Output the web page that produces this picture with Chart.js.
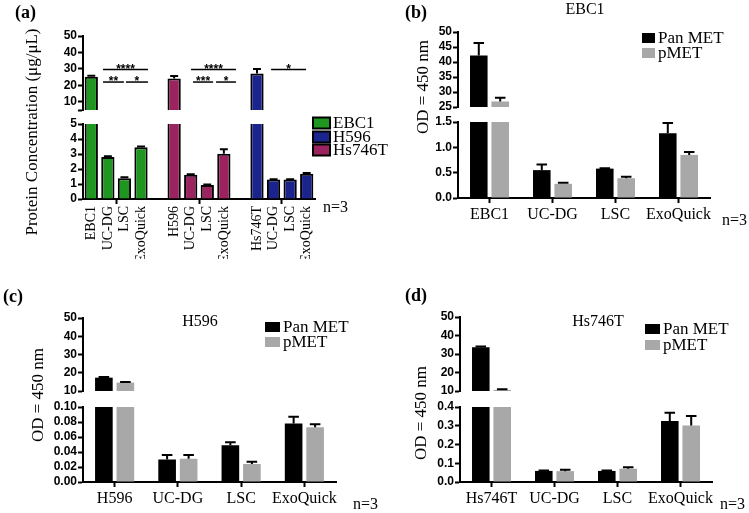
<!DOCTYPE html>
<html>
<head>
<meta charset="utf-8">
<script src="https://cdn.jsdelivr.net/npm/chart.js@4.4.0/dist/chart.umd.min.js"></script>
<style>
  body { margin: 0; background: #fff; }
  #wrap { position: relative; width: 749px; height: 513px; }
  #wrap canvas { position: absolute; left: 0; top: 0; }
</style>
</head>
<body>
<div id="wrap"></div>
<script>
// ---- (a) protein concentration
var proteinLabels = ['EBC1', 'UC-DG', 'LSC', 'ExoQuick', '', 'H596', 'UC-DG', 'LSC', 'ExoQuick', '', 'Hs746T', 'UC-DG', 'LSC', 'ExoQuick'];
var proteinValues = [25.2, 2.8, 1.38, 3.45, null, 24.2, 1.62, 0.93, 3.02, null, 27.2, 1.3, 1.3, 1.68];
var proteinErrors = [0.6, 0.05, 0.07, 0.05, null, 1.4, 0.03, 0.03, 0.3, null, 2.8, 0.02, 0.02, 0.05];
var green = '#1f961f', maroon = '#9b235f', navy = '#1b248c';
var proteinColors = [green, green, green, green, null, maroon, maroon, maroon, maroon, null, navy, navy, navy, navy];
var proteinLegend = ['EBC1', 'H596', 'Hs746T'];
var proteinLegendColors = [green, navy, maroon];
// [from category, to category, value, stars]
var sigLines = [
  [0.71, 3.42, 29.6, '****'], [0.71, 1.97, 22, '**'], [2.09, 3.42, 22, '*'],
  [6.02, 8.73, 29.6, '****'], [6.14, 7.35, 22, '***'], [7.53, 8.73, 22, '*'],
  [10.85, 12.96, 29.6, '*']
];
var aTopTicks = [5, 10, 20, 30, 40, 50];
var aBottomTicks = [0, 1, 2, 3, 4, 5];

// ---- (b) EBC1
var ebc1Labels = ['EBC1', 'UC-DG', 'LSC', 'ExoQuick'];
var ebc1PanMET = [42.2, 0.55, 0.58, 1.28];
var ebc1PanMETErr = [4.1, 0.11, 0.005, 0.2];
var ebc1PMET = [26.8, 0.28, 0.39, 0.85];
var ebc1PMETErr = [1.3, 0.02, 0.03, 0.06];
var bTopTicks = [25, 30, 35, 40, 45, 50];
var bBottomTicks = [0, 0.5, 1.0, 1.5];

// ---- (c) H596
var h596Labels = ['H596', 'UC-DG', 'LSC', 'ExoQuick'];
var h596PanMET = [17.3, 0.030, 0.049, 0.078];
var h596PanMETErr = [0.4, 0.006, 0.004, 0.009];
var h596PMET = [14.6, 0.031, 0.024, 0.073];
var h596PMETErr = [0.4, 0.005, 0.003, 0.004];
var cTopTicks = [10, 20, 30, 40, 50];
var cBottomTicks = [0, 0.02, 0.04, 0.06, 0.08, 0.10];

// ---- (d) Hs746T
var hs746tLabels = ['Hs746T', 'UC-DG', 'LSC', 'ExoQuick'];
var hs746tPanMET = [33.6, 0.059, 0.059, 0.325];
var hs746tPanMETErr = [0.4, 0.002, 0.002, 0.045];
var hs746tPMET = [10.6, 0.058, 0.071, 0.302];
var hs746tPMETErr = [0.3, 0.008, 0.008, 0.05];
var dTopTicks = [10, 20, 30, 40, 50];
var dBottomTicks = [0, 0.1, 0.2, 0.3, 0.4];

var metLegend = ['Pan MET', 'pMET'];
var metColors = ['#000000', '#a8a8a8'];

var W = 749, H = 513;
var serif = '"Liberation Serif", "Times New Roman", serif';
var sans = '"Liberation Sans", Arial, sans-serif';

function addCanvas() {
  var c = document.createElement('canvas');
  c.width = W;
  c.height = H;
  document.getElementById('wrap').appendChild(c);
  return c;
}

// upper error bars, only where the mean falls inside this segment
var errorBars = {
  id: 'errorBars',
  afterDatasetsDraw: function (chart) {
    var ctx = chart.ctx, y = chart.scales.y;
    chart.data.datasets.forEach(function (ds, di) {
      if (!ds.errors) return;
      chart.getDatasetMeta(di).data.forEach(function (bar, i) {
        var v = ds.data[i], e = ds.errors[i];
        if (v == null || e == null || v < y.min || v > y.max) return;
        var top = y.getPixelForValue(Math.min(v + e, y.max));
        var cap = bar.width * 0.3;
        ctx.save();
        ctx.strokeStyle = '#000';
        ctx.lineWidth = 2;
        ctx.beginPath();
        ctx.moveTo(bar.x, bar.y);
        ctx.lineTo(bar.x, top);
        ctx.moveTo(bar.x - cap, top);
        ctx.lineTo(bar.x + cap, top);
        ctx.stroke();
        ctx.restore();
      });
    });
  }
};

var sigPlugin = {
  id: 'sig',
  afterDatasetsDraw: function (chart) {
    var ctx = chart.ctx, x = chart.scales.x, y = chart.scales.y;
    ctx.save();
    ctx.strokeStyle = '#000';
    ctx.fillStyle = '#000';
    ctx.lineWidth = 1.5;
    ctx.font = 'bold 12px ' + sans;
    ctx.textAlign = 'center';
    ctx.textBaseline = 'alphabetic';
    sigLines.forEach(function (s) {
      var x1 = x.getPixelForValue(s[0]), x2 = x.getPixelForValue(s[1]), yy = y.getPixelForValue(s[2]);
      ctx.beginPath();
      ctx.moveTo(x1, yy);
      ctx.lineTo(x2, yy);
      ctx.stroke();
      ctx.fillText(s[3], (x1 + x2) / 2, yy + 3);
    });
    ctx.restore();
  }
};

// panel letter, title, y title, legend and n=3
function decor(d) {
  return {
    id: 'decor',
    afterDraw: function (chart) {
      var ctx = chart.ctx;
      ctx.save();
      ctx.fillStyle = '#000';
      ctx.textBaseline = 'middle';
      ctx.font = 'bold 18px ' + serif;
      ctx.textAlign = 'left';
      ctx.fillText(d.letter, d.letterPos[0], d.letterPos[1]);
      ctx.font = '16px ' + serif;
      if (d.title) {
        ctx.textAlign = 'center';
        ctx.fillText(d.title, d.titlePos[0], d.titlePos[1]);
      }
      ctx.textAlign = 'left';
      ctx.fillText('n=3', d.nPos[0], d.nPos[1]);
      ctx.font = d.legend.font + 'px ' + serif;
      d.legend.labels.forEach(function (lab, i) {
        var ly = d.legend.y[i];
        ctx.fillStyle = d.legend.colors[i];
        ctx.fillRect(d.legend.x, ly - d.legend.h / 2, d.legend.w, d.legend.h);
        if (d.legend.border) {
          ctx.strokeStyle = '#000';
          ctx.lineWidth = 2;
          ctx.strokeRect(d.legend.x, ly - d.legend.h / 2, d.legend.w, d.legend.h);
        }
        ctx.fillStyle = '#000';
        ctx.fillText(lab, d.legend.x + d.legend.w + 3, ly + 1);
      });
      ctx.font = '17px ' + serif;
      ctx.translate(d.yTitlePos[0], d.yTitlePos[1]);
      ctx.rotate(-Math.PI / 2);
      ctx.textAlign = 'center';
      ctx.fillText(d.yTitle, 0, 0);
      ctx.restore();
    }
  };
}

function segment(area, cfg) {
  var yW = 60, xH = cfg.showX ? 60 : 0;
  return new Chart(addCanvas(), {
    type: 'bar',
    data: { labels: cfg.labels, datasets: cfg.datasets },
    options: {
      responsive: false,
      animation: false,
      events: [],
      layout: { padding: { left: area[0] - yW, top: area[1], right: W - area[2], bottom: H - area[3] - xH } },
      plugins: { legend: { display: false }, tooltip: { enabled: false } },
      scales: {
        x: {
          display: cfg.showX,
          offset: true,
          grid: {
            display: true, drawOnChartArea: false, drawTicks: true, tickLength: 5, tickWidth: 2,
            tickColor: cfg.tickColor || '#000', offset: cfg.gridOffset
          },
          border: { display: true, color: '#000', width: 2 },
          ticks: {
            font: cfg.xFont, color: '#000', padding: 2,
            minRotation: cfg.rot, maxRotation: cfg.rot, autoSkip: false
          },
          afterFit: function (s) { s.height = xH; }
        },
        y: {
          min: cfg.ticks[0],
          max: cfg.ticks[cfg.ticks.length - 1],
          grid: { drawOnChartArea: false, tickLength: 5, tickWidth: 2, tickColor: '#000' },
          border: { color: '#000', width: 2 },
          ticks: {
            font: { family: sans, size: 12, weight: 'bold' }, color: '#000', padding: 1,
            autoSkip: false, callback: cfg.fmt
          },
          afterBuildTicks: function (s) { s.ticks = cfg.ticks.map(function (v) { return { value: v }; }); },
          afterFit: function (s) { s.width = yW; }
        }
      }
    },
    plugins: [errorBars].concat(cfg.plugins || [])
  });
}

function proteinDataset() {
  return [{
    data: proteinValues, errors: proteinErrors,
    backgroundColor: proteinColors, borderColor: '#000', borderWidth: 2,
    barPercentage: 0.8, categoryPercentage: 1, clip: 0
  }];
}

function metDatasets(pan, panErr, p, pErr) {
  return [
    { label: metLegend[0], data: pan, errors: panErr, backgroundColor: metColors[0],
      barPercentage: 0.82, categoryPercentage: 0.68, clip: 0 },
    { label: metLegend[1], data: p, errors: pErr, backgroundColor: metColors[1],
      barPercentage: 0.82, categoryPercentage: 0.68, clip: 0 }
  ];
}

function fixed(n) { return function (v) { return Number(v).toFixed(n); }; }
var xSerif = { family: serif, size: 16 };

// (a)
segment([83, 36, 315, 110], {
  labels: proteinLabels, datasets: proteinDataset(), showX: false, ticks: aTopTicks,
  fmt: function (v) { return v % 10 === 0 ? v : ''; }, plugins: [sigPlugin]
});
segment([83, 124, 315, 199], {
  labels: proteinLabels, datasets: proteinDataset(), showX: true, ticks: aBottomTicks, rot: 90,
  xFont: { family: serif, size: 14 }, gridOffset: true,
  tickColor: function (c) { return [2, 7, 12].indexOf(c.index) >= 0 ? '#000' : 'rgba(0,0,0,0)'; },
  fmt: fixed(0),
  plugins: [decor({
    letter: '(a)', letterPos: [15, 13], yTitle: 'Protein Concentration (μg/μL)', yTitlePos: [33, 132],
    nPos: [323, 208],
    legend: { labels: proteinLegend, colors: proteinLegendColors, x: 313, y: [123, 137, 150], w: 17, h: 11, border: true, font: 17 }
  })]
});

// (b)
segment([458, 32, 710, 107], {
  labels: ebc1Labels, datasets: metDatasets(ebc1PanMET, ebc1PanMETErr, ebc1PMET, ebc1PMETErr),
  showX: false, ticks: bTopTicks, fmt: fixed(0)
});
segment([458, 122, 710, 198], {
  labels: ebc1Labels, datasets: metDatasets(ebc1PanMET, ebc1PanMETErr, ebc1PMET, ebc1PMETErr),
  showX: true, ticks: bBottomTicks, rot: 0, xFont: xSerif, gridOffset: false, fmt: fixed(1),
  plugins: [decor({
    letter: '(b)', letterPos: [405, 13], title: 'EBC1', titlePos: [585, 10],
    yTitle: 'OD = 450 nm', yTitlePos: [424, 87], nPos: [722, 221],
    legend: { labels: metLegend, colors: metColors, x: 642, y: [38, 53], w: 13, h: 10, border: false, font: 17 }
  })]
});

// (c)
segment([83, 318, 336, 391], {
  labels: h596Labels, datasets: metDatasets(h596PanMET, h596PanMETErr, h596PMET, h596PMETErr),
  showX: false, ticks: cTopTicks, fmt: fixed(0)
});
segment([83, 407, 336, 482], {
  labels: h596Labels, datasets: metDatasets(h596PanMET, h596PanMETErr, h596PMET, h596PMETErr),
  showX: true, ticks: cBottomTicks, rot: 0, xFont: xSerif, gridOffset: false, fmt: fixed(2),
  plugins: [decor({
    letter: '(c)', letterPos: [3, 297], title: 'H596', titlePos: [200, 322],
    yTitle: 'OD = 450 nm', yTitlePos: [39, 395], nPos: [353, 505],
    legend: { labels: metLegend, colors: metColors, x: 265, y: [327, 342], w: 15, h: 10, border: false, font: 17 }
  })]
});

// (d)
segment([460, 317, 712, 391], {
  labels: hs746tLabels, datasets: metDatasets(hs746tPanMET, hs746tPanMETErr, hs746tPMET, hs746tPMETErr),
  showX: false, ticks: dTopTicks, fmt: fixed(0)
});
segment([460, 407, 712, 482], {
  labels: hs746tLabels, datasets: metDatasets(hs746tPanMET, hs746tPanMETErr, hs746tPMET, hs746tPMETErr),
  showX: true, ticks: dBottomTicks, rot: 0, xFont: xSerif, gridOffset: false, fmt: fixed(1),
  plugins: [decor({
    letter: '(d)', letterPos: [405, 296], title: 'Hs746T', titlePos: [598, 322],
    yTitle: 'OD = 450 nm', yTitlePos: [422, 413], nPos: [720, 505],
    legend: { labels: metLegend, colors: metColors, x: 645, y: [329, 345], w: 15, h: 10, border: false, font: 17 }
  })]
});
</script>
</body>
</html>
